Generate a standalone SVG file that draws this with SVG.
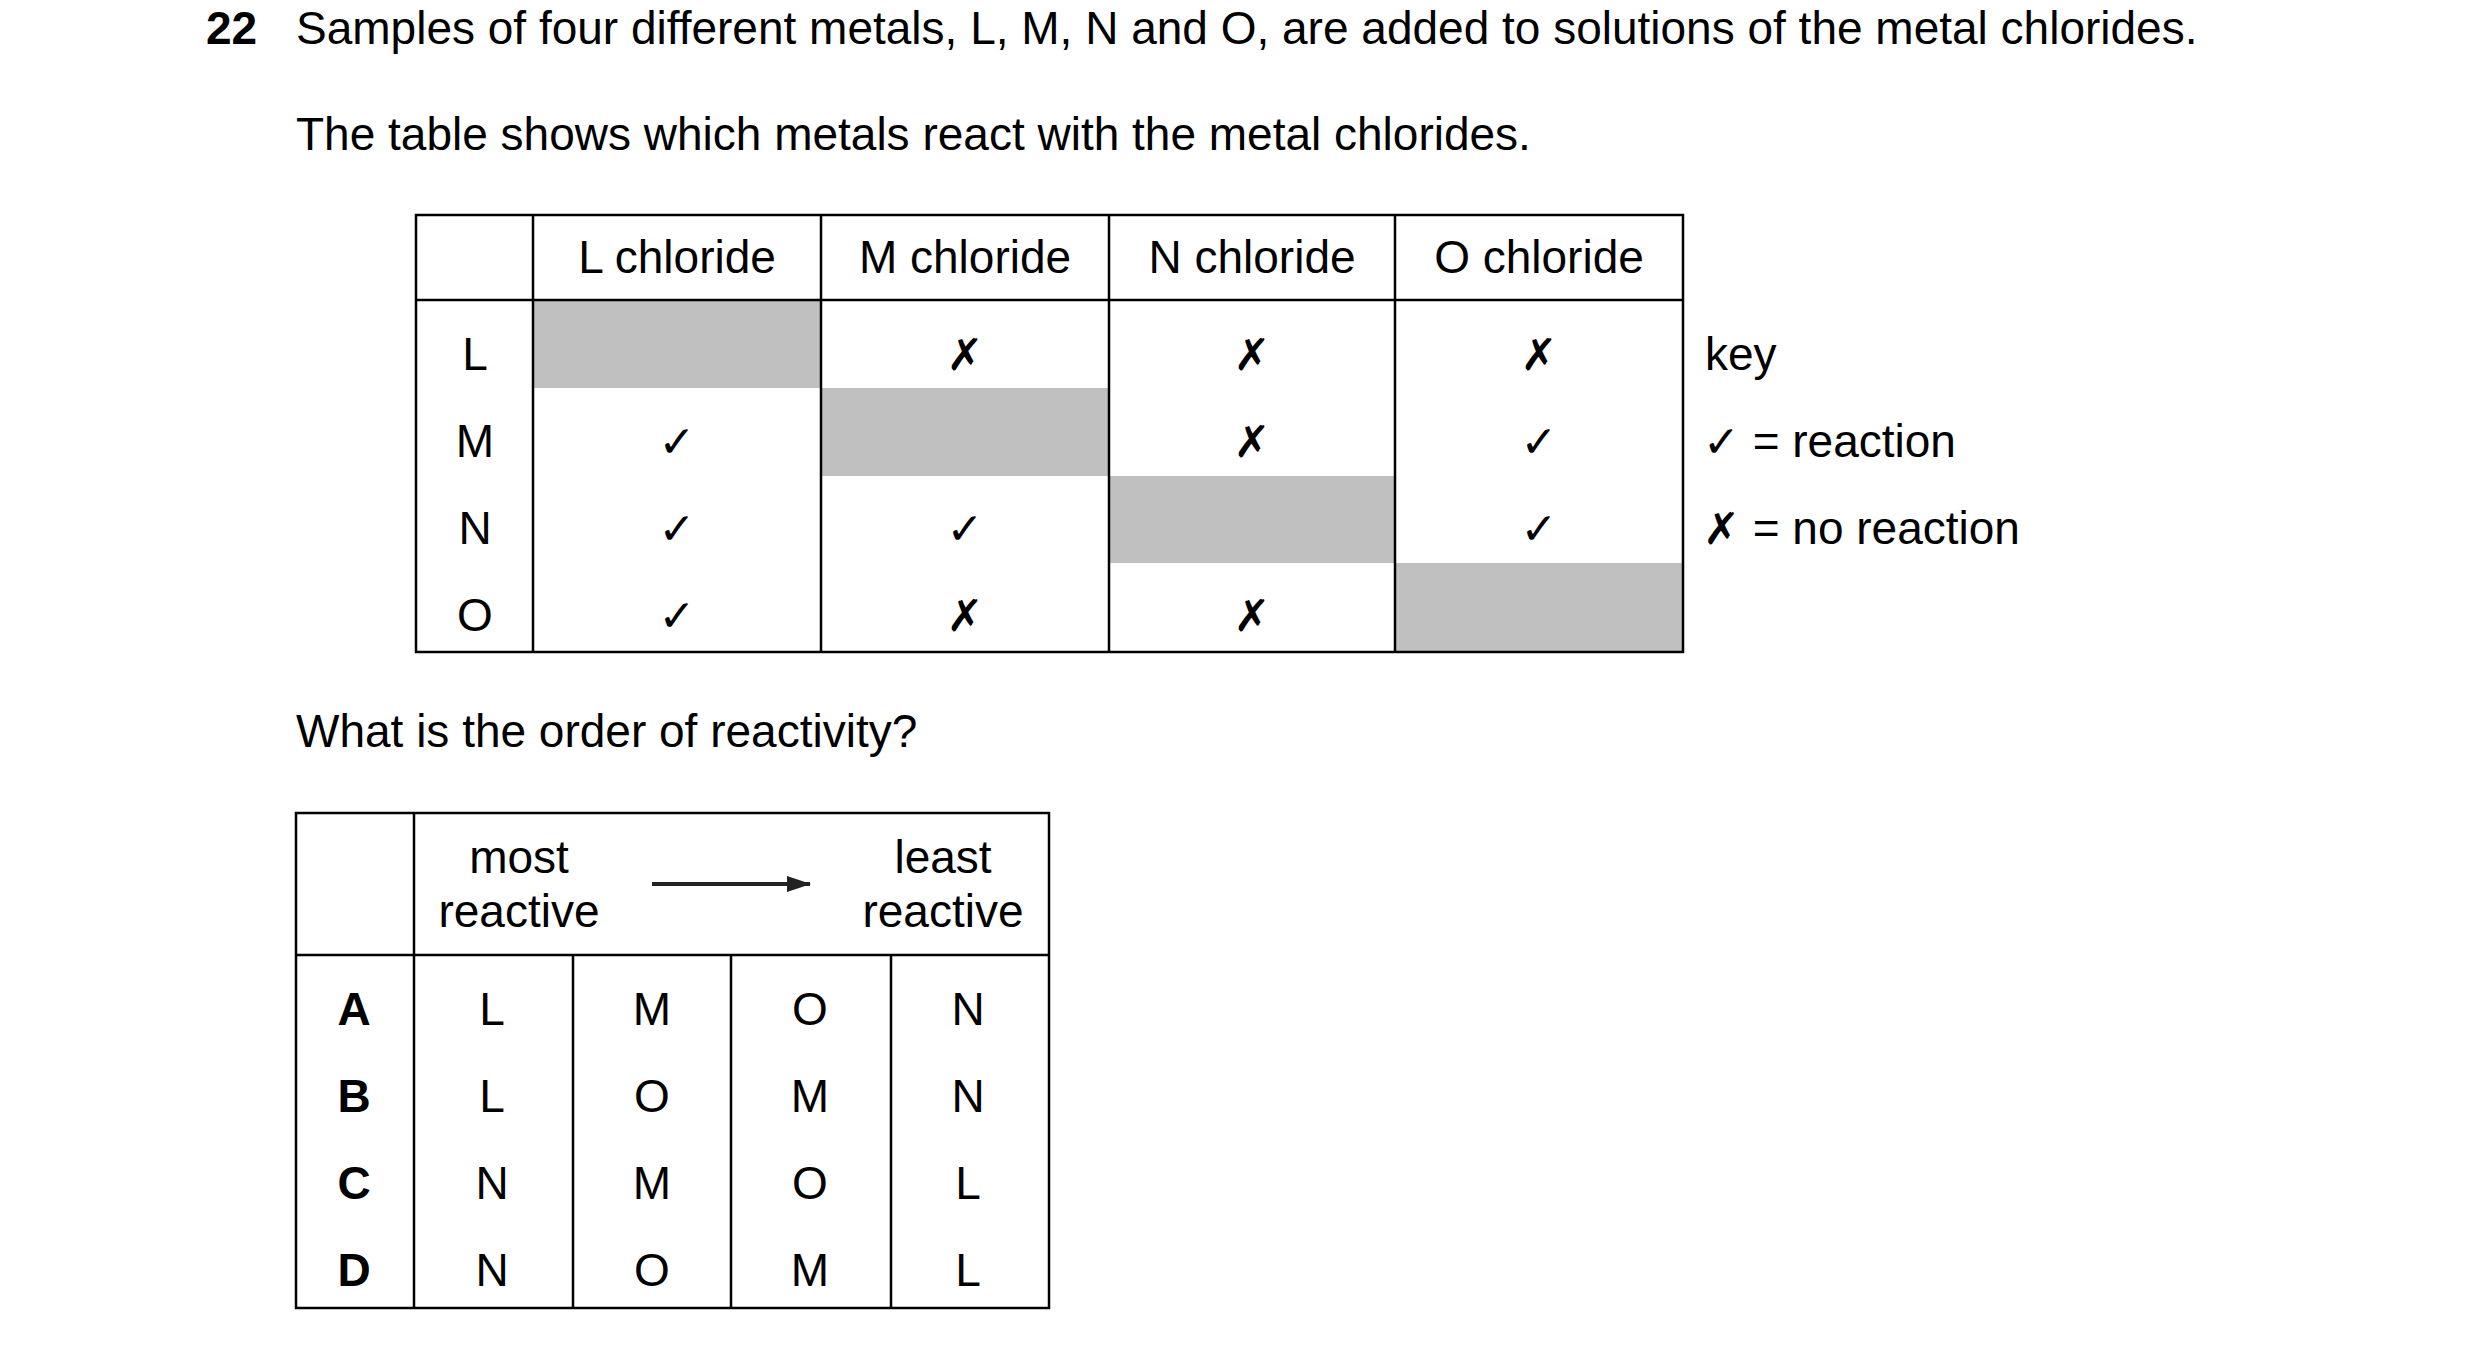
<svg xmlns="http://www.w3.org/2000/svg" width="2480" height="1349" viewBox="0 0 2480 1349">
<style>
text{font-family:"Liberation Sans",Arial,sans-serif;font-size:46px;fill:#000}
.c{text-anchor:middle}
.b{font-weight:bold}
.s{font-family:"DejaVu Sans",sans-serif;font-size:44px;font-weight:bold}
.g{fill:#c0c0c0}
.l{stroke:#000;stroke-width:2.5;fill:none}
</style>
<defs><marker id="ah" markerWidth="24" markerHeight="16" refX="23" refY="8" orient="auto" markerUnits="userSpaceOnUse" viewBox="0 0 24 16"><path d="M0,0L24,8L0,16z" fill="#222"/></marker></defs>
<rect width="2480" height="1349" fill="#fff"/>
<text x="206" y="44" class="b">22</text>
<text x="296" y="44">Samples of four different metals, L, M, N and O, are added to solutions of the metal chlorides.</text>
<text x="296" y="150">The table shows which metals react with the metal chlorides.</text>
<g id="table1">
<rect class="g" x="533" y="300" width="288" height="88"/>
<rect class="g" x="821" y="388" width="288" height="88"/>
<rect class="g" x="1109" y="476" width="286" height="87"/>
<rect class="g" x="1395" y="563" width="288" height="89"/>
<rect class="l" x="416" y="215" width="1267" height="437"/>
<path class="l" d="M416 300H1683M533 215V652M821 215V652M1109 215V652M1395 215V652"/>
<text class="c" x="677" y="273">L chloride</text>
<text class="c" x="965" y="273">M chloride</text>
<text class="c" x="1252" y="273">N chloride</text>
<text class="c" x="1539" y="273">O chloride</text>
<text class="c" x="475" y="370">L</text>
<text class="c" x="475" y="457">M</text>
<text class="c" x="475" y="544">N</text>
<text class="c" x="475" y="631">O</text>
<text class="c s" x="965" y="370">✗</text><text class="c s" x="1252" y="370">✗</text><text class="c s" x="1539" y="370">✗</text>
<text class="c s" x="677" y="457">✓</text><text class="c s" x="1252" y="457">✗</text><text class="c s" x="1539" y="457">✓</text>
<text class="c s" x="677" y="544">✓</text><text class="c s" x="965" y="544">✓</text><text class="c s" x="1539" y="544">✓</text>
<text class="c s" x="677" y="631">✓</text><text class="c s" x="965" y="631">✗</text><text class="c s" x="1252" y="631">✗</text>
</g>
<g id="key">
<text x="1705" y="370">key</text>
<text x="1703" y="457"><tspan class="s">✓</tspan> = reaction</text>
<text x="1703" y="544"><tspan class="s">✗</tspan> = no reaction</text>
</g>
<text x="296" y="747">What is the order of reactivity?</text>
<g id="table2">
<rect class="l" x="296" y="813" width="753" height="495"/>
<path class="l" d="M296 955H1049M414 813V1308M573 955V1308M731 955V1308M891 955V1308"/>
<text class="c" x="519" y="873">most</text>
<text class="c" x="519" y="927">reactive</text>
<text class="c" x="943" y="873">least</text>
<text class="c" x="943" y="927">reactive</text>
<text class="c b" x="354" y="1025">A</text><text class="c b" x="354" y="1112">B</text><text class="c b" x="354" y="1199">C</text><text class="c b" x="354" y="1286">D</text>
<text class="c" x="492" y="1025">L</text><text class="c" x="652" y="1025">M</text><text class="c" x="810" y="1025">O</text><text class="c" x="968" y="1025">N</text>
<text class="c" x="492" y="1112">L</text><text class="c" x="652" y="1112">O</text><text class="c" x="810" y="1112">M</text><text class="c" x="968" y="1112">N</text>
<text class="c" x="492" y="1199">N</text><text class="c" x="652" y="1199">M</text><text class="c" x="810" y="1199">O</text><text class="c" x="968" y="1199">L</text>
<text class="c" x="492" y="1286">N</text><text class="c" x="652" y="1286">O</text><text class="c" x="810" y="1286">M</text><text class="c" x="968" y="1286">L</text>
</g>
<g id="connectors"><line x1="652" y1="884" x2="810" y2="884" stroke="#222" stroke-width="4" marker-end="url(#ah)"/></g>
</svg>
